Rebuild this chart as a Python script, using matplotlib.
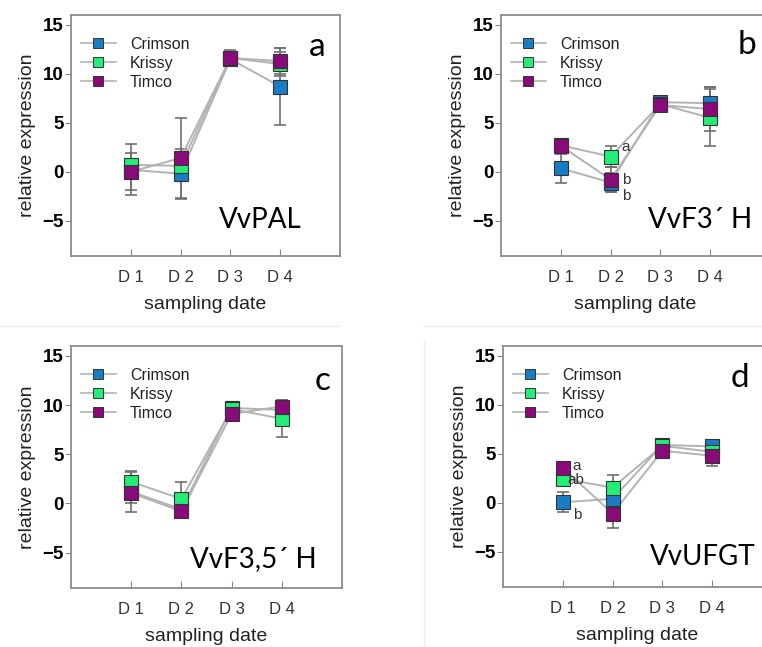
import numpy as np
import matplotlib
matplotlib.use("Agg")
import matplotlib.pyplot as plt
from matplotlib.lines import Line2D

plt.rcParams['font.family'] = ['Liberation Sans', 'DejaVu Sans']

days = ["D 1", "D 2", "D 3", "D 4"]
cultivars = ["Crimson", "Krissy", "Timco"]
colors = ["#1a7cc4", "#22ee77", "#8a0a7a"]

# VvPAL
pal_crimson = [0.2, -0.2, 11.5, 8.7]
pal_krissy = [0.7, 0.6, 11.6, 11.0]
pal_timco = [0.0, 1.4, 11.6, 11.3]
pal_crimson_err = [2.6, 2.55, 0.7, 3.9]
pal_krissy_err = [0.6, 0.8, 0.5, 1.2]
pal_timco_err = [1.9, 4.1, 0.8, 1.3]

# VvF3'H
f3h_crimson = [0.35, -1.1, 7.1, 7.0]
f3h_krissy = [2.7, 1.55, 6.9, 5.5]
f3h_timco = [2.65, -0.8, 6.8, 6.4]
f3h_crimson_err = [1.45, 1.0, 0.6, 1.6]
f3h_krissy_err = [0.3, 1.05, 0.5, 2.9]
f3h_timco_err = [0.3, 1.3, 0.5, 2.2]

# VvF3,5'H
f35h_crimson = [1.2, -0.6, 9.7, 9.5]
f35h_krissy = [2.2, 0.45, 9.6, 8.6]
f35h_timco = [1.05, -0.8, 9.1, 9.85]
f35h_crimson_err = [2.1, 0.8, 0.3, 0.8]
f35h_krissy_err = [1.0, 1.7, 0.4, 1.9]
f35h_timco_err = [1.0, 0.7, 0.5, 0.7]

# VvUFGT
ufgt_crimson = [0.05, 0.4, 5.9, 5.75]
ufgt_krissy = [2.45, 1.55, 5.8, 5.2]
ufgt_timco = [3.55, -1.1, 5.3, 4.8]
ufgt_crimson_err = [1.0, 0.9, 0.3, 0.7]
ufgt_krissy_err = [0.3, 1.25, 0.3, 0.6]
ufgt_timco_err = [0.3, 1.5, 0.4, 1.0]

panels = [
    ("a", "VvPAL", [pal_crimson, pal_krissy, pal_timco],
     [pal_crimson_err, pal_krissy_err, pal_timco_err]),
    ("b", "VvF3\u00b4 H", [f3h_crimson, f3h_krissy, f3h_timco],
     [f3h_crimson_err, f3h_krissy_err, f3h_timco_err]),
    ("c", "VvF3,5\u00b4 H", [f35h_crimson, f35h_krissy, f35h_timco],
     [f35h_crimson_err, f35h_krissy_err, f35h_timco_err]),
    ("d", "VvUFGT", [ufgt_crimson, ufgt_krissy, ufgt_timco],
     [ufgt_crimson_err, ufgt_krissy_err, ufgt_timco_err]),
]

# axes rectangles in pixels: left, top, right, bottom
W, H = 762, 647
boxes = [(71, 15, 340, 256), (501, 15, 770, 256),
         (71, 346, 342, 588), (503, 346, 772, 587)]
letter_pos = [(4.74, 12.75), (4.74, 12.9), (4.82, 12.4), (4.56, 12.7)]
gene_pos = [(3.6, -4.9), (3.8, -4.9), (3.44, -5.7), (3.8, -5.5)]

fig = plt.figure(figsize=(W / 100, H / 100), dpi=100)

# faint screenshot borders
fig.add_artist(Line2D([0, 340 / W], [1 - 326 / H] * 2, color="#eeeeee", lw=1))
fig.add_artist(Line2D([424 / W, 1], [1 - 326 / H] * 2, color="#eeeeee", lw=1))
fig.add_artist(Line2D([424 / W] * 2, [0, 1 - 340 / H], color="#eeeeee", lw=1))

x = np.arange(1, 5)
for i, (letter, gene, series, errs) in enumerate(panels):
    l, t, r, b = boxes[i]
    ax = fig.add_axes([l / W, 1 - b / H, (r - l) / W, (b - t) / H])

    for vals, err in zip(series, errs):
        ax.errorbar(x, vals, yerr=err, fmt="none", ecolor="#707070",
                    elinewidth=1.2, capsize=4, capthick=1.2, zorder=1)
    for vals in series:
        ax.plot(x, vals, color="#b3b3b3", lw=1.4, zorder=2)
    for vals, c in zip(series, colors):
        ax.plot(x, vals, ls="none", marker="s", ms=9.8, mfc=c,
                mec="#333333", mew=0.8, zorder=3)

    ax.set_xlim(-0.2, 5.2)
    ax.set_ylim(-8.6, 16)
    ax.set_xticks(x)
    ax.set_xticklabels(days, fontsize=12, color="#333333")
    ax.set_yticks([-5, 0, 5, 10, 15])
    ax.set_yticklabels(["\u22125", "0", "5", "10", "15"], fontsize=13.5,
                       fontweight="bold")
    ax.tick_params(axis="x", direction="in", length=5, color="#888888",
                   pad=10)
    ax.tick_params(axis="y", direction="out", length=4, color="#888888",
                   pad=1)
    for s in ax.spines.values():
        s.set_color("#8c8c8c")
        s.set_linewidth(1.3)
    ax.set_xlabel("sampling date", fontsize=14, color="#222222", labelpad=8)
    ax.set_ylabel("relative expression", fontsize=14, color="#222222",
                  labelpad=5)

    handles = [Line2D([], [], color="#b3b3b3", lw=1.2, marker="s", ms=7.5,
                      mfc=c, mec="#333333", mew=0.7) for c in colors]
    ax.legend(handles, cultivars, loc="upper left", frameon=False,
              fontsize=11.5, handlelength=2.2, handletextpad=0.9,
              labelspacing=0.25, bbox_to_anchor=(0.0, 0.95),
              borderaxespad=0.2, labelcolor="#222222")

    ax.text(*letter_pos[i], letter, fontsize=24, family="Lato",
            ha="center", va="center")
    ax.text(*gene_pos[i], gene, fontsize=20, family="Lato",
            ha="center", va="center")

    if letter == "b":
        ax.text(2.22, 2.55, "a", fontsize=11, color="#333333", va="center")
        ax.text(2.22, -0.8, "b", fontsize=11, color="#333333", va="center")
        ax.text(2.22, -2.5, "b", fontsize=11, color="#333333", va="center")
    if letter == "d":
        ax.text(1.2, 3.8, "a", fontsize=11, color="#333333", va="center")
        ax.text(1.1, 2.3, "ab", fontsize=11, color="#333333", va="center")
        ax.text(1.2, -1.2, "b", fontsize=11, color="#333333", va="center")

fig.savefig("out.png", dpi=100)
